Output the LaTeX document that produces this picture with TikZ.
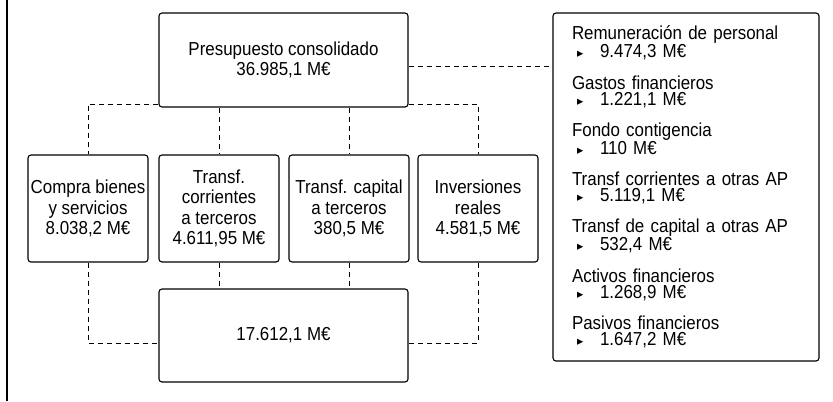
\documentclass[tikz,border=0pt]{standalone}
\usepackage{fontspec}
\setmainfont[FakeStretch=0.9]{Liberation Sans}
\newfontfamily\dejavu{DejaVu Sans}
\usetikzlibrary{arrows,shapes}
\setlength{\lineskiplimit}{-50bp}
\newcommand{\importe}[1]{\makebox[28bp][l]{\hspace*{5bp}{\dejavu\fontsize{12.5bp}{12bp}\selectfont ▸}}#1}
\tikzset{
	caja/.style={draw,line width=1.1bp,rounded corners=3bp,align=center,inner sep=1bp,font=\fontsize{18.8bp}{20.5bp}\selectfont},
	enlace/.style={line width=1bp,dash pattern=on 5bp off 4bp},
}
\begin{document}
\begin{tikzpicture}[x=1bp,y=-1bp]
		\useasboundingbox (0,0) rectangle (833,401);
		\draw[line width=2.5bp] (7,0) -- (7,401);
		\node[caja,minimum width=249bp,minimum height=94bp] (Pres) at (283.5,60) {Presupuesto consolidado\\36.985,1 M€};
		\node[caja,minimum width=120bp,minimum height=107bp] (Compra) at (88,208.5) {Compra bienes\\y servicios\\8.038,2 M€};
		\node[caja,minimum width=120bp,minimum height=107bp] (TCorr) at (219,208.5) {Transf.\\corrientes\\a terceros\\4.611,95 M€};
		\node[caja,minimum width=120bp,minimum height=107bp] (TCap) at (349,208.5) {Transf. capital\\a terceros\\380,5 M€};
		\node[caja,minimum width=120bp,minimum height=107bp] (Inv) at (478,208.5) {Inversiones\\reales\\4.581,5 M€};
		\node[caja,minimum width=249bp,minimum height=93bp] (Total) at (283.5,335.5) {17.612,1 M€};
		\node[caja,align=left,text width=228bp,inner xsep=19bp,minimum height=348bp,font=\fontsize{18.8bp}{16bp}\selectfont] (Partidas) at (686,187) {Remuneración de personal\\\importe{9.474,3 M€}\\[14.5bp]
			Gastos financieros\\\importe{1.221,1 M€}\\[14.5bp]
			Fondo contigencia\\\importe{110 M€}\\[14.5bp]
			Transf corrientes a otras AP\\\importe{5.119,1 M€}\\[14.5bp]
			Transf de capital a otras AP\\\importe{532,4 M€}\\[14.5bp]
			Activos financieros\\\importe{1.268,9 M€}\\[14.5bp]
			Pasivos financieros\\\importe{1.647,2 M€}};
		\coordinate (PresE) at ([yshift=-6bp]Pres.east);
		\draw[enlace] ([yshift=3bp]Pres.south west) -| (Compra.north);
		\draw[enlace] (TCorr.north |- Pres.south) -- (TCorr.north);
		\draw[enlace] (TCap.north |- Pres.south) -- (TCap.north);
		\draw[enlace] ([yshift=3bp]Pres.south east) -| (Inv.north);
		\draw[enlace] (PresE) -- (PresE -| Partidas.west);
		\draw[enlace] (Compra.south) |- ([yshift=-7.5bp]Total.west);
		\draw[enlace] (TCorr.south) -- (TCorr.south |- Total.north);
		\draw[enlace] (TCap.south) -- (TCap.south |- Total.north);
		\draw[enlace] (Inv.south) |- ([yshift=-7.5bp]Total.east);
	\end{tikzpicture}
\end{document}
